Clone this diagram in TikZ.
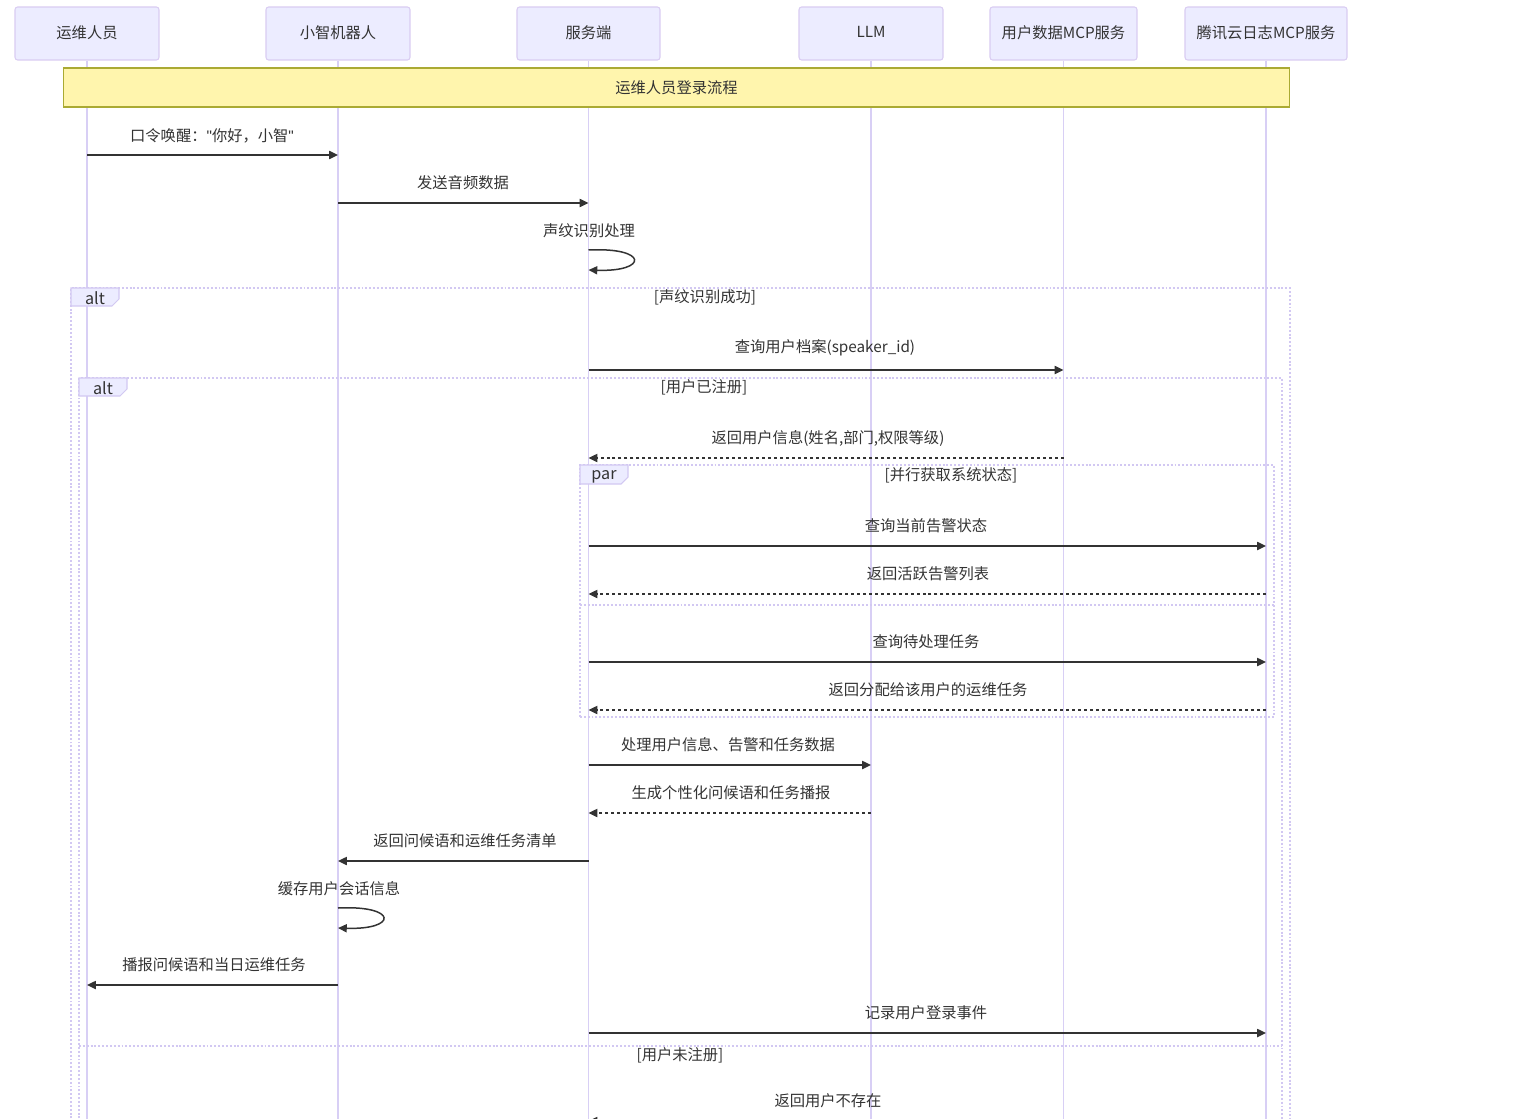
\documentclass[tikz,border=0pt]{standalone}
\usepackage{fontspec}
\setmainfont{Noto Sans CJK SC}
\newfontfamily\latfont{Liberation Sans}
\usetikzlibrary{arrows.meta}
\definecolor{actfill}{HTML}{ECECFF}
\definecolor{actline}{HTML}{D9CCF2}
\definecolor{life}{HTML}{D8CFF5}
\definecolor{framec}{HTML}{D2C8F2}
\definecolor{notefill}{HTML}{FFF5AD}
\definecolor{noteline}{HTML}{AAAA33}
\definecolor{ink}{HTML}{333333}
\newcommand{\sq}{{\latfont"}}

\begin{document}
\begin{tikzpicture}[x=0.02cm,y=-0.02cm,
  font=\fontsize{8.7pt}{10pt}\selectfont,
  every node/.style={text=ink, inner sep=0pt},
  actor/.style={draw=actline, fill=actfill, line width=0.6pt, rounded corners=1.5pt,
                minimum height=1.06cm},
  lifeline/.style={draw=life, line width=1pt},
  note/.style={draw=noteline, fill=notefill, line width=0.6pt,
               minimum width=24.54cm, minimum height=0.78cm},
  msg/.style={draw=ink, line width=0.85pt, -{Triangle[length=5pt,width=4.6pt]}},
  reply/.style={msg, dash pattern=on 1.7pt off 1.7pt},
  frame/.style={draw=framec, line width=1.1pt, dash pattern=on 1.1pt off 1.1pt},
  tab/.style={draw=framec, fill=actfill, line width=0.6pt},
  lbl/.style={font=\fontsize{8.7pt}{10pt}\selectfont},
  kw/.style={font=\fontsize{9.2pt}{10pt}\selectfont},
]
\useasboundingbox (0,0) rectangle (1516,1119);
\clip (0,0) rectangle (1516,1119);
\fill[white] (0,0) rectangle (1516,1119);

% participants
\node[actor, minimum width=2.88cm] (op)  at (87,33.5)   {\raisebox{2pt}{运维人员}};
\node[actor, minimum width=2.88cm] (bot) at (338,33.5)  {\raisebox{2pt}{小智机器人}};
\node[actor, minimum width=2.86cm] (srv) at (588.5,33.5) {\raisebox{2pt}{服务端}};
\node[actor, minimum width=2.88cm] (llm) at (871,33.5)  {\raisebox{2pt}{LLM}};
\node[actor, minimum width=2.94cm] (udb) at (1063.5,33.5) {\raisebox{2pt}{用户数据MCP服务}};
\node[actor, minimum width=3.24cm] (clog) at (1266,33.5) {\raisebox{2pt}{腾讯云日志MCP服务}};

% lifelines
\foreach \p in {op,bot,srv,llm,udb,clog}
  \draw[lifeline] (\p.south) -- (\p.south |- 0,1130);

% title note
\node[note] (login) at (676.5,87.5) {运维人员登录流程};

% wake word
\node[lbl] (t1) at (212,136) {口令唤醒：\sq 你好，小智\sq};
\draw[msg] (op |- 0,155) -- (bot |- 0,155);

\node[lbl] (t2) at (463,183) {发送音频数据};
\draw[msg] (bot |- 0,203) -- (srv |- 0,203);

\node[lbl] (t3) at (589,231) {声纹识别处理};
\draw[msg] (srv |- 0,250) .. controls +(60,-3) and +(60,2) .. (srv |- 0,270);

% outer alt frame
\coordinate (f1a) at (71,288);
\coordinate (f1b) at (1290,288);
\draw[frame] (71,1130) -- (f1a) -- (f1b) -- (1290,1130);
\draw[tab] (f1a) -- (119,288) -- (119,299) -- (112,306) -- (71,306) -- cycle;
\node[kw] (alt1) at (95,298) {alt};
\node[lbl] (c1) at (705,297) {[声纹识别成功]};

\node[lbl] (t4) at (825,348) {查询用户档案(speaker\_id)};
\draw[msg] (srv |- 0,370) -- (udb |- 0,370);

% inner alt frame
\coordinate (f2a) at (79,378);
\coordinate (f2b) at (1282,378);
\draw[frame] (79,1130) -- (f2a) -- (f2b) -- (1282,1130);
\draw[tab] (f2a) -- (127,378) -- (127,389) -- (120,396) -- (79,396) -- cycle;
\node[kw] (alt2) at (103,388) {alt};
\node[lbl] (c2) at (704,387) {[用户已注册]};

\node[lbl] (t5) at (828,438) {返回用户信息(姓名,部门,权限等级)};
\draw[reply] (udb |- 0,458) -- (srv |- 0,458);

% par frame
\coordinate (f3a) at (580,465);
\coordinate (f3b) at (1274,465);
\draw[frame] (580,717) -- (f3a) -- (f3b) -- (1274,717) -- cycle;
\draw[tab] (f3a) -- (628,465) -- (628,477) -- (621,484) -- (580,484) -- cycle;
\node[kw] (par) at (604,477) {par};
\node[lbl] (c3) at (951,475) {[并行获取系统状态]};

\node[lbl] (t6) at (926,526) {查询当前告警状态};
\draw[msg] (srv |- 0,546) -- (clog |- 0,546);

\node[lbl] (t7) at (928,574) {返回活跃告警列表};
\draw[reply] (clog |- 0,594) -- (srv |- 0,594);

\draw[frame] (580,605) -- (1274,605);

\node[lbl] (t8) at (926,642) {查询待处理任务};
\draw[msg] (srv |- 0,662) -- (clog |- 0,662);

\node[lbl] (t9) at (928,690) {返回分配给该用户的运维任务};
\draw[reply] (clog |- 0,710) -- (srv |- 0,710);

% LLM exchange
\node[lbl] (t10) at (728,745) {处理用户信息、告警和任务数据};
\draw[msg] (srv |- 0,765) -- (llm |- 0,765);

\node[lbl] (t11) at (731,793) {生成个性化问候语和任务播报};
\draw[reply] (llm |- 0,813) -- (srv |- 0,813);

\node[lbl] (t12) at (465,841) {返回问候语和运维任务清单};
\draw[msg] (srv |- 0,861) -- (bot |- 0,861);

\node[lbl] (t13) at (339,889) {缓存用户会话信息};
\draw[msg] (bot |- 0,908) .. controls +(60,-3) and +(60,2) .. (bot |- 0,928);

\node[lbl] (t14) at (214,965) {播报问候语和当日运维任务};
\draw[msg] (bot |- 0,985) -- (op |- 0,985);

\node[lbl] (t15) at (926,1013) {记录用户登录事件};
\draw[msg] (srv |- 0,1033) -- (clog |- 0,1033);

% else branch
\draw[frame] (79,1046) -- (1282,1046);
\node[lbl] (c4) at (680,1055) {[用户未注册]};

\node[lbl] (t16) at (828,1101) {返回用户不存在};
\draw[reply] (udb |- 0,1121) -- (srv |- 0,1121);
\end{tikzpicture}
\end{document}
